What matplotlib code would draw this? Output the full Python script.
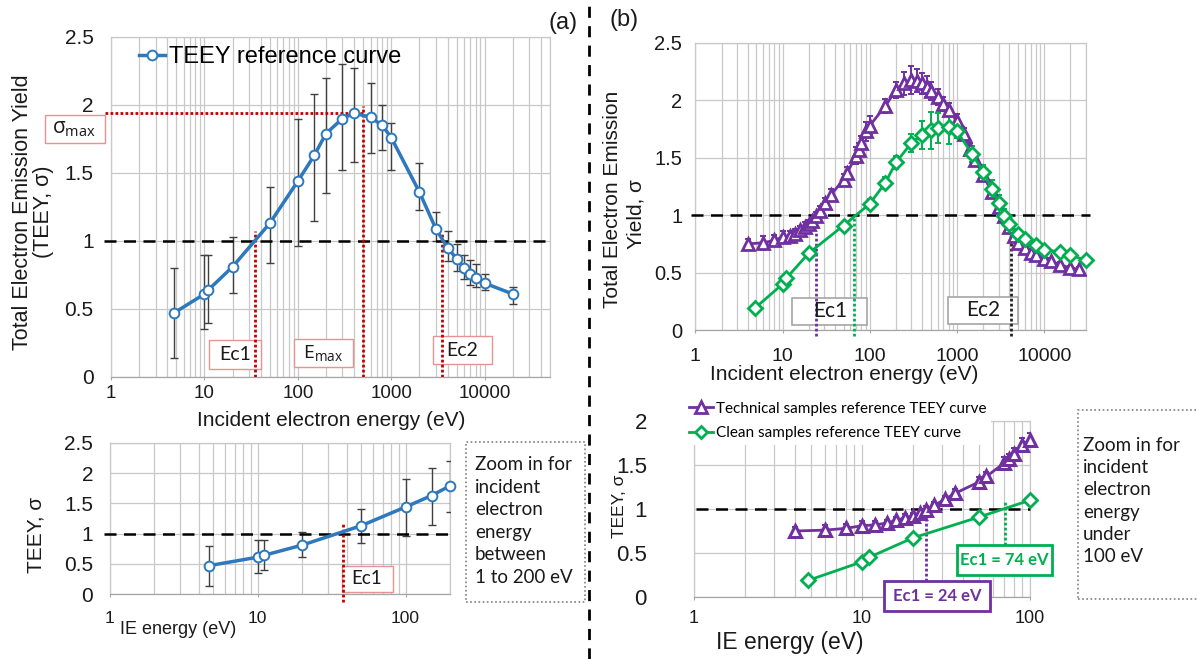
import numpy as np
import matplotlib
matplotlib.use('Agg')
import matplotlib.pyplot as plt
from matplotlib.patches import Rectangle
from matplotlib.lines import Line2D
from matplotlib.ticker import LogLocator, FixedLocator, NullFormatter, FuncFormatter

# ---------------- data ----------------
# panel (a): TEEY reference curve
a_energy = [4.7, 10, 11, 20, 50, 100, 150, 200, 300, 400, 600, 800, 1000,
            2000, 3000, 4000, 5000, 6000, 7000, 8000, 10000, 20000]
a_teey = [0.47, 0.61, 0.64, 0.81, 1.13, 1.44, 1.63, 1.79, 1.90, 1.94, 1.91, 1.85, 1.76,
          1.36, 1.09, 0.95, 0.87, 0.80, 0.76, 0.73, 0.69, 0.61]
a_err_low = [0.14, 0.35, 0.40, 0.62, 0.84, 0.96, 1.15, 1.35, 1.52, 1.58, 1.65, 1.67, 1.52,
             1.23, 1.00, 0.85, 0.78, 0.72, 0.68, 0.66, 0.64, 0.54]
a_err_high = [0.80, 0.90, 0.90, 1.03, 1.40, 1.90, 2.08, 2.20, 2.30, 2.27, 2.16, 2.00, 1.87,
              1.57, 1.21, 1.07, 0.98, 0.90, 0.86, 0.83, 0.76, 0.66]
a_ec1 = 35
a_emax = 500
a_ec2 = 3450
a_sigma_max = 1.94

# panel (b): technical samples (purple) and clean samples (green)
tech_energy = [4, 6, 8, 10, 12, 14, 16, 18, 20, 22,
               24, 27, 31, 36, 50, 55, 70, 75, 80, 90,
               100, 150, 200, 250, 300, 350, 400, 450, 500, 600,
               700, 800, 1000, 1200, 1400, 1600, 2000, 2500, 3000, 3500,
               4000, 4500, 5000, 6000, 7000, 8000, 10000, 12000, 15000, 20000,
               25000]
tech_teey = [0.75, 0.76, 0.78, 0.81, 0.82, 0.84, 0.87, 0.90, 0.92, 0.95,
             0.99, 1.04, 1.11, 1.18, 1.31, 1.37, 1.52, 1.57, 1.63, 1.73,
             1.78, 1.95, 2.09, 2.15, 2.18, 2.17, 2.15, 2.12, 2.08, 2.03,
             1.97, 1.92, 1.82, 1.71, 1.58, 1.48, 1.35, 1.20, 1.07, 0.99,
             0.90, 0.82, 0.76, 0.71, 0.67, 0.65, 0.62, 0.60, 0.57, 0.54,
             0.53]
tech_err = [0.04, 0.06, 0.05, 0.05, 0.04, 0.04, 0.04, 0.04, 0.04, 0.04,
            0.04, 0.04, 0.04, 0.05, 0.05, 0.05, 0.07, 0.06, 0.06, 0.08,
            0.08, 0.06, 0.07, 0.10, 0.12, 0.10, 0.09, 0.09, 0.08, 0.07,
            0.06, 0.06, 0.06, 0.05, 0.05, 0.05, 0.05, 0.05, 0.05, 0.04,
            0.04, 0.04, 0.04, 0.03, 0.03, 0.03, 0.03, 0.03, 0.02, 0.02,
            0.02]
clean_energy = [4.8, 10, 11, 20, 50, 100, 150, 200, 300, 400,
                500, 600, 800, 1000, 1500, 2000, 2500, 3000, 3500, 4000,
                5000, 6000, 8000, 10000, 15000, 20000, 30000]
clean_teey = [0.19, 0.40, 0.45, 0.67, 0.91, 1.10, 1.28, 1.46, 1.63, 1.70,
              1.74, 1.76, 1.77, 1.73, 1.53, 1.38, 1.23, 1.11, 0.99, 0.92,
              0.84, 0.79, 0.74, 0.70, 0.68, 0.65, 0.61]
clean_err = [0.02, 0.03, 0.03, 0.03, 0.03, 0.04, 0.05, 0.06, 0.08, 0.12,
             0.16, 0.13, 0.15, 0.06, 0.07, 0.06, 0.08, 0.07, 0.06, 0.05,
             0.04, 0.04, 0.03, 0.03, 0.03, 0.03, 0.02]
b_ec1_tech = 24
b_ec1_clean = 74
b_ec2 = 4200

# ---------------- style ----------------
plt.rcParams['font.family'] = ['Liberation Sans', 'DejaVu Sans']
plt.rcParams['mathtext.fontset'] = 'custom'
plt.rcParams['mathtext.rm'] = 'Open Sans'
plt.rcParams['mathtext.it'] = 'Open Sans:italic'
plt.rcParams['mathtext.bf'] = 'Open Sans:bold'

BLUE = '#2E78BE'
PURPLE = '#7030A0'
GREEN = '#00B050'
RED = '#C00000'
GRID = '#C8C8C8'
TXT = '#1A1A1A'
CAL = ['Lato', 'DejaVu Sans']

W, H = 1197, 659
fig = plt.figure(figsize=(W / 100, H / 100), dpi=100)


def rect(l, t, r, b):
    return [l / W, 1 - b / H, (r - l) / W, (b - t) / H]


def fx(x):
    return x / W


def fy(y):
    return 1 - y / H


def style(ax, xlim, ylim, yticks, xts, yts, xpad, ypad):
    ax.set_xscale('log')
    major = [10 ** k for k in range(0, int(np.floor(np.log10(xlim[1]))) + 1)]
    ax.xaxis.set_major_locator(FixedLocator(major))
    ax.xaxis.set_major_formatter(FuncFormatter(lambda v, p: f'{v:.0f}'))
    ax.xaxis.set_minor_locator(LogLocator(base=10, subs=np.arange(2, 10), numticks=20))
    ax.xaxis.set_minor_formatter(NullFormatter())
    ax.set_yticks(yticks)
    ax.set_yticklabels([f'{v:g}' for v in yticks])
    ax.grid(True, which='both', axis='x', color=GRID, lw=0.9)
    ax.grid(True, which='major', axis='y', color=GRID, lw=0.9)
    ax.set_axisbelow(True)
    for s in ax.spines.values():
        s.set_color(GRID)
        s.set_linewidth(0.9)
    ax.spines['bottom'].set_color('#A6A6A6')
    ax.tick_params(axis='x', which='major', length=2.5, color='#A6A6A6',
                   labelsize=xts, pad=xpad, labelcolor=TXT)
    ax.tick_params(axis='x', which='minor', length=0)
    ax.tick_params(axis='y', length=0, labelsize=yts, pad=ypad, labelcolor=TXT)
    ax.set_xlim(*xlim)
    ax.set_ylim(*ylim)


def box(ax, x0, y0, x1, y1, ec, lw=1.0, ls='-', z=3):
    r = Rectangle((fx(x0), fy(y1)), (x1 - x0) / W, (y1 - y0) / H,
                  transform=fig.transFigure, fc='white', ec=ec, lw=lw, ls=ls,
                  zorder=z, clip_on=False)
    ax.add_artist(r)


def label(ax, x, y, s, size, color=TXT, weight='normal', family=CAL, z=6, **kw):
    ax.text(fx(x), fy(y), s, transform=fig.transFigure, ha='center', va='center',
            fontsize=size, color=color, fontweight=weight, family=family,
            zorder=z, clip_on=False, **kw)


DASH1 = (0, (4.8, 3))
DOT = (0, (1, 0.8))

# ================= panel (a) top =================
ax1 = fig.add_axes(rect(111, 37, 550, 377))
style(ax1, (1, 50000), (0, 2.5), [0, 0.5, 1, 1.5, 2, 2.5], 13.5, 15, 3, 12.5)
lo = np.array(a_teey) - np.array(a_err_low)
hi = np.array(a_err_high) - np.array(a_teey)
ax1.errorbar(a_energy, a_teey, yerr=[lo, hi], fmt='none', ecolor='#404040',
             elinewidth=1, capsize=3, capthick=1, zorder=4)
ax1.plot(a_energy, a_teey, '-o', color=BLUE, lw=2.5, ms=7, mfc='white',
         mec=BLUE, mew=1.4, zorder=5)
ax1.axhline(1, xmin=-0.016, xmax=1, color='black', lw=1.8, ls=DASH1,
            clip_on=False, zorder=4.5)
xr = np.log10(a_emax) / np.log10(50000)
ax1.plot([-0.014, xr], [a_sigma_max, a_sigma_max], transform=ax1.get_yaxis_transform(),
         color=RED, lw=2, ls=DOT, clip_on=False, zorder=4.6)
ax1.plot([a_ec1, a_ec1], [0, 1.07], color=RED, lw=2, ls=DOT, zorder=4.6)
ax1.plot([a_emax, a_emax], [0, 1.99], color=RED, lw=2, ls=DOT, zorder=4.6)
ax1.plot([a_ec2, a_ec2], [0, 1.05], color=RED, lw=2, ls=DOT, zorder=4.6)
REDBOX = '#E59393'
box(ax1, 45, 115, 105, 143, REDBOX)
box(ax1, 209, 340, 261, 369, REDBOX)
box(ax1, 294, 339, 353, 367, REDBOX)
box(ax1, 433, 336, 492, 364, REDBOX)
label(ax1, 74, 129, r'$\mathrm{\sigma_{max}}$', 15)
label(ax1, 235, 354, 'Ec1', 14)
label(ax1, 323, 353, r'$\mathrm{E_{max}}$', 14)
label(ax1, 462, 350, 'Ec2', 14)
h = Line2D([], [], color=BLUE, lw=2.5, marker='o', ms=7, mfc='white', mec=BLUE, mew=1.4)
ax1.legend([h], ['TEEY reference curve'], loc='center left',
           bbox_to_anchor=((139 - 111) / 439, (377 - 57) / 340), frameon=False,
           fontsize=17, handlelength=1.1, handletextpad=0.15, borderpad=0,
           borderaxespad=0)
ax1.set_xlim(1, 50000)
ax1.set_ylim(0, 2.5)

# ================= panel (a) bottom =================
ax2 = fig.add_axes(rect(110, 443, 450, 594))
style(ax2, (1, 200), (0, 2.5), [0, 0.5, 1, 1.5, 2, 2.5], 12.5, 15, 10, 12)
sel = [i for i, e in enumerate(a_energy) if e <= 200]
e2 = [a_energy[i] for i in sel]
t2 = [a_teey[i] for i in sel]
ax2.errorbar(e2, t2, yerr=[lo[sel], hi[sel]], fmt='none', ecolor='#404040',
             elinewidth=1, capsize=3, capthick=1, zorder=4)
ax2.plot(e2, t2, '-o', color=BLUE, lw=2.5, ms=7, mfc='white', mec=BLUE,
         mew=1.4, zorder=5, clip_on=False)
ax2.axhline(1, xmin=-0.018, xmax=1.01, color='black', lw=1.8, ls=DASH1,
            clip_on=False, zorder=4.5)
ax2.plot([a_ec1 + 2.5, a_ec1 + 2.5], [-0.13, 1.2], color=RED, lw=2, ls=DOT,
         clip_on=False, zorder=4.6)
box(ax2, 342, 566, 393, 592, REDBOX)
label(ax2, 367, 579, 'Ec1', 13.5)
ax2.set_xlim(1, 200)
ax2.set_ylim(0, 2.5)

# zoom note (a)
box(ax2, 466, 442, 585, 602, '#808080', lw=1.2, ls=(0, (1, 1.5)))
ax2.text(fx(475), fy(521), 'Zoom in for\nincident\nelectron\nenergy\nbetween\n1 to 200 eV',
         transform=fig.transFigure, ha='left', va='center', fontsize=13.5,
         family=CAL, color=TXT, linespacing=1.4, zorder=6)

# ================= panel (b) top =================
ax3 = fig.add_axes(rect(695.4, 43, 1085.8, 330))
style(ax3, (1, 30000), (0, 2.5), [0, 0.5, 1, 1.5, 2, 2.5], 14, 14.5, 10.5, 9.5)
ax3.errorbar(tech_energy, tech_teey, yerr=tech_err, fmt='none', ecolor=PURPLE,
             elinewidth=1.4, capsize=2.5, capthick=1.4, zorder=4)
ax3.plot(tech_energy, tech_teey, '-^', color=PURPLE, lw=2, ms=8, mfc='white',
         mec=PURPLE, mew=2, zorder=5)
ax3.errorbar(clean_energy, clean_teey, yerr=clean_err, fmt='none', ecolor=GREEN,
             elinewidth=1.4, capsize=2.5, capthick=1.4, zorder=4)
ax3.plot(clean_energy, clean_teey, '-D', color=GREEN, lw=2, ms=7, mfc='white',
         mec=GREEN, mew=2, zorder=5.2, clip_on=False)
ax3.axhline(1, xmin=-0.01, xmax=1.01, color='black', lw=1.8, ls=DASH1,
            clip_on=False, zorder=4.5)
box(ax3, 792, 298, 867, 325, '#A6A6A6', lw=1.2)
box(ax3, 948, 297, 1018, 324, '#A6A6A6', lw=1.2)
ax3.plot([b_ec1_tech, b_ec1_tech], [-0.05, 0.85], color=PURPLE, lw=2, ls=DOT,
         clip_on=False, zorder=4.6)
ax3.plot([b_ec1_clean * 0.9, b_ec1_clean * 0.9], [-0.05, 1.0], color=GREEN, lw=2,
         ls=DOT, clip_on=False, zorder=4.6)
ax3.plot([b_ec2, b_ec2], [-0.05, 1.0], color='#222222', lw=2, ls=DOT,
         clip_on=False, zorder=4.6)
label(ax3, 830, 311, 'Ec1', 15)
label(ax3, 983, 310, 'Ec2', 15)
ax3.set_xlim(1, 30000)
ax3.set_ylim(0, 2.5)

# ================= panel (b) bottom =================
ax4 = fig.add_axes(rect(694, 421, 1030, 597))
style(ax4, (1, 100), (0, 2), [0, 0.5, 1, 1.5, 2], 13, 16, 7, 34)
ts = [i for i, e in enumerate(tech_energy) if e <= 100]
cs = [i for i, e in enumerate(clean_energy) if e <= 100]
ax4.errorbar([tech_energy[i] for i in ts], [tech_teey[i] for i in ts],
             yerr=[tech_err[i] for i in ts], fmt='none', ecolor=PURPLE,
             elinewidth=1.4, capsize=2.5, capthick=1.4, zorder=4)
ax4.plot([tech_energy[i] for i in ts], [tech_teey[i] for i in ts], '-^',
         color=PURPLE, lw=2, ms=9, mfc='white', mec=PURPLE, mew=2.2, zorder=5,
         clip_on=False)
ax4.errorbar([clean_energy[i] for i in cs], [clean_teey[i] for i in cs],
             yerr=[clean_err[i] for i in cs], fmt='none', ecolor=GREEN,
             elinewidth=1.4, capsize=2.5, capthick=1.4, zorder=4)
ax4.plot([clean_energy[i] for i in cs], [clean_teey[i] for i in cs], '-D',
         color=GREEN, lw=2, ms=7, mfc='white', mec=GREEN, mew=2, zorder=5.2,
         clip_on=False)
ax4.axhline(1, xmin=0.005, xmax=1.0, color='black', lw=1.8, ls=DASH1,
            clip_on=False, zorder=4.5)
ax4.plot([b_ec1_tech, b_ec1_tech], [0.18, 0.98], color=PURPLE, lw=2, ls=DOT,
         zorder=4.6)
ax4.plot([b_ec1_clean * 0.96, b_ec1_clean * 0.96], [0.59, 1.08], color=GREEN, lw=2,
         ls=DOT, zorder=4.6)
box(ax4, 884, 581, 990, 611, PURPLE, lw=2, z=7)
box(ax4, 957, 545, 1052, 575, GREEN, lw=2, z=7)
label(ax4, 937, 596, f'Ec1 = {b_ec1_tech} eV', 12, color=PURPLE, weight='bold', z=8)
label(ax4, 1004.5, 560, f'Ec1 = {b_ec1_clean} eV', 12, color=GREEN, weight='bold', z=8)
hp = Line2D([], [], color=PURPLE, lw=2, marker='^', ms=8, mfc='white', mec=PURPLE, mew=2)
hg = Line2D([], [], color=GREEN, lw=2, marker='D', ms=6.5, mfc='white', mec=GREEN, mew=2)
leg = ax4.legend([hp, hg], ['Technical samples reference TEEY curve',
                            'Clean samples reference TEEY curve'],
                 loc='center left', bbox_to_anchor=(-0.03, 1.0), frameon=True,
                 prop={'family': CAL, 'size': 11}, handlelength=1.6,
                 handletextpad=0.2, borderpad=0.3, labelspacing=0.7,
                 borderaxespad=0)
leg.get_frame().set_facecolor('white')
leg.get_frame().set_edgecolor('none')
leg.get_frame().set_alpha(1)
leg.set_zorder(9)
ax4.set_xlim(1, 100)
ax4.set_ylim(0, 2)

# zoom note (b)
box(ax4, 1078, 410, 1205, 599, '#808080', lw=1.2, ls=(0, (1, 1.5)), z=7)
ax4.text(fx(1083), fy(501), 'Zoom in for\nincident\nelectron\nenergy\nunder\n100 eV',
         transform=fig.transFigure, ha='left', va='center', fontsize=13.5,
         family=CAL, color=TXT, linespacing=1.36, zorder=8)

# ---------------- axis titles ----------------
def ftext(x, y, s, size, rot=0, **kw):
    fig.text(fx(x), fy(y), s, ha='center', va='center', fontsize=size,
             rotation=rot, color=TXT, **kw)


ftext(331, 421, 'Incident electron energy (eV)', 15)
ftext(23, 212, 'Total Electron Emission Yield', 15.5, rot=90)
ftext(44, 212, '(TEEY, σ)', 15.5, rot=90)
ftext(178, 630, 'IE energy (eV)', 13)
ftext(36, 535, 'TEEY, σ', 15, rot=90)
ftext(844, 375, 'Incident electron energy (eV)', 15)
ftext(613, 199, 'Total Electron Emission', 15, rot=90)
ftext(636, 214, 'Yield, σ', 15, rot=90)
ftext(790, 642, 'IE energy (eV)', 16.5)
ftext(619, 506, 'TEEY, σ', 12.5, rot=90)
ftext(563, 23, '(a)', 17)
ftext(624, 20, '(b)', 17)

# separator
fig.add_artist(Line2D([fx(589), fx(589)], [0, 1], transform=fig.transFigure,
                      color='black', lw=2, ls=(0, (4, 3))))

fig.savefig('out.png', dpi=100)
